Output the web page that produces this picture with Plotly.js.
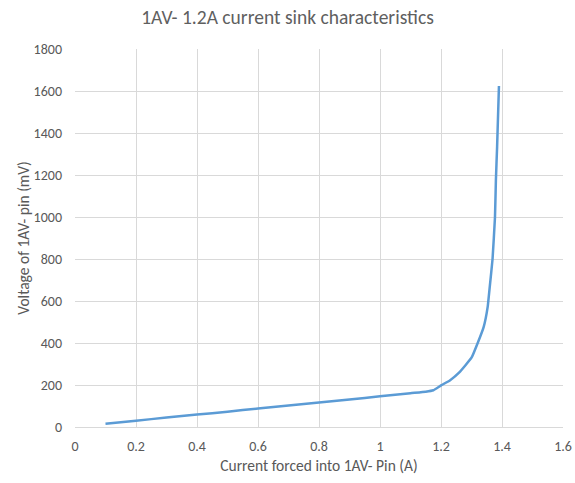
<!DOCTYPE html>
<html>
<head>
<meta charset="utf-8">
<script src="https://cdn.plot.ly/plotly-3.0.1.min.js"></script>
<style>html,body{margin:0;padding:0;background:#fff;}#chart{width:575px;height:483px;}</style>
</head>
<body>
<div id="chart"></div>
<script>
var currentA = [0.1, 0.2, 0.3, 0.4, 0.5, 0.6, 0.7, 0.8, 0.9, 1.0, 1.1, 1.15, 1.175, 1.2, 1.23, 1.26, 1.3, 1.32, 1.34, 1.353, 1.36, 1.369, 1.377, 1.38, 1.384, 1.39];
var voltageMv = [16, 30, 45, 59, 73, 88, 102, 117, 131, 146, 161, 168, 175, 198, 223, 260, 330, 399, 477, 572, 670, 800, 1000, 1176, 1335, 1624];
var xTicks = [0, 0.2, 0.4, 0.6, 0.8, 1, 1.2, 1.4, 1.6];
var yTicks = [0, 200, 400, 600, 800, 1000, 1200, 1400, 1600, 1800];

var font = "Carlito, 'Open Sans', 'Liberation Sans', sans-serif";
Plotly.newPlot('chart', [{
  x: currentA, y: voltageMv, type: 'scatter', mode: 'lines',
  line: {color: '#5b9bd5', width: 2.5, shape: 'spline', smoothing: 0.3},
  hoverinfo: 'none'
}], {
  width: 575, height: 483,
  margin: {l: 75, r: 12, t: 49, b: 56},
  paper_bgcolor: '#fff', plot_bgcolor: '#fff',
  showlegend: false,
  title: {text: '1AV- 1.2A current sink characteristics', x: 0.5, xanchor: 'center', y: 0.965, yanchor: 'middle',
          font: {family: font, size: 19.5, color: '#5f5f5f'}},
  xaxis: {range: [0, 1.6], tickvals: xTicks, ticktext: xTicks.map(String), showgrid: true, gridcolor: '#d9d9d9', gridwidth: 1,
          zeroline: false, showline: true, linecolor: '#d9d9d9', ticks: '', ticklen: 0, ticklabelstandoff: 6,
          tickfont: {family: font, size: 14, color: '#595959'},
          title: {text: 'Current forced into 1AV- Pin (A)', font: {family: font, size: 15.5, color: '#595959'}, standoff: 6}},
  yaxis: {range: [0, 1800], tickvals: yTicks, ticktext: yTicks.map(String), showgrid: true, gridcolor: '#d9d9d9', gridwidth: 1,
          zeroline: false, showline: false, ticks: '', ticklabelstandoff: 12,
          tickfont: {family: font, size: 14, color: '#595959'},
          title: {text: 'Voltage of 1AV- pin (mV)', font: {family: font, size: 15.5, color: '#595959'}, standoff: 0}}
}, {displayModeBar: false, staticPlot: true});
</script>
</body>
</html>
